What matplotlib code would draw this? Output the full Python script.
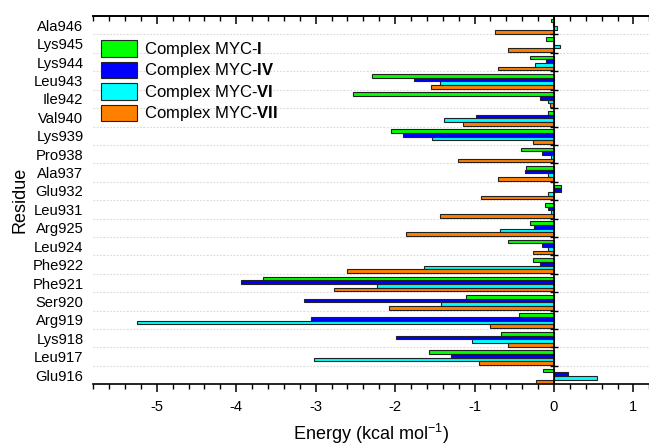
import matplotlib
matplotlib.use("Agg")
import matplotlib.pyplot as plt
import numpy as np
from matplotlib.ticker import MultipleLocator

plt.rcParams['font.family'] = ['Liberation Sans', 'DejaVu Sans']
plt.rcParams['mathtext.fontset'] = 'custom'
plt.rcParams['mathtext.rm'] = 'Liberation Sans'
plt.rcParams['mathtext.bf'] = 'Liberation Sans:bold'

residues = ["Glu916", "Leu917", "Lys918", "Arg919", "Ser920", "Phe921", "Phe922",
            "Leu924", "Arg925", "Leu931", "Glu932", "Ala937", "Pro938", "Lys939",
            "Val940", "Ile942", "Leu943", "Lys944", "Lys945", "Ala946"]

myc_I = [-0.14, -1.57, -0.665, -0.44, -1.11, -3.66, -0.27,
         -0.58, -0.30, -0.12, 0.085, -0.35, -0.42, -2.05,
         -0.07, -2.53, -2.29, -0.30, -0.10, -0.04]
myc_IV = [0.17, -1.295, -1.99, -3.065, -3.145, -3.945, -0.175,
          -0.155, -0.25, -0.07, 0.085, -0.37, -0.155, -1.895,
          -0.985, -0.18, -1.76, -0.10, 0.0, -0.01]
myc_VI = [0.54, -3.02, -1.035, -5.25, -1.42, -2.23, -1.64,
          -0.07, -0.675, -0.035, -0.07, -0.07, -0.035, -1.54,
          -1.39, -0.07, -1.44, -0.235, 0.075, 0.04]
myc_VII = [-0.225, -0.95, -0.58, -0.81, -2.08, -2.77, -2.61,
           -0.27, -1.86, -1.44, -0.92, -0.71, -1.21, -0.26,
           -1.15, -0.05, -1.55, -0.71, -0.575, -0.74]

series = [
    (myc_I, '#00ff00', r'Complex MYC-$\mathbf{I}$'),
    (myc_IV, '#0000ff', r'Complex MYC-$\mathbf{IV}$'),
    (myc_VI, '#00ffff', r'Complex MYC-$\mathbf{VI}$'),
    (myc_VII, '#ff8000', r'Complex MYC-$\mathbf{VII}$'),
]
offsets = [0.25, 0.05, -0.15, -0.35]

fig = plt.figure(figsize=(6.49, 4.46), dpi=100)
ax = fig.add_axes([0.1436, 0.1383, 0.857, 0.8258])

y = np.arange(len(residues))
for (vals, col, lab), off in zip(series, offsets):
    ax.barh(y + off, vals, height=0.2, color=col, edgecolor='#222222',
            linewidth=0.8, label=lab, zorder=3)

ax.set_ylim(-0.5, len(residues) - 0.5)
ax.set_xlim(-5.8, 1.2)

# grid at group boundaries
bounds = np.arange(len(residues) - 1) + 0.5
for b in bounds:
    ax.axhline(b, color='#d8d8d8', linestyle=(0, (1.5, 1.5)), linewidth=0.8, zorder=1)

# zero line with ticks
ax.axvline(0, color='black', linewidth=1.2, zorder=4)
ax.plot(np.zeros_like(bounds), bounds, linestyle='none', marker='_',
        markersize=6, color='black', markeredgewidth=1.0, zorder=5)

ax.set_yticks(y)
ax.set_yticklabels(residues, fontsize=10.6)
ax.tick_params(axis='y', length=0, pad=7)

ax.xaxis.set_major_locator(MultipleLocator(1))
ax.xaxis.set_minor_locator(MultipleLocator(0.2))
ax.tick_params(axis='x', which='major', direction='out', length=6, width=1.1, labelsize=10.6, pad=5)
ax.tick_params(axis='x', which='minor', direction='out', length=3.5, width=1.0)

sec = ax.secondary_xaxis('top')
sec.xaxis.set_major_locator(MultipleLocator(1))
sec.xaxis.set_minor_locator(MultipleLocator(0.2))
sec.tick_params(axis='x', which='major', direction='in', length=6, width=1.1, labeltop=False)
sec.tick_params(axis='x', which='minor', direction='in', length=3.5, width=1.0)
sec.spines['top'].set_linewidth(1.2)

for s in ['left', 'right']:
    ax.spines[s].set_visible(False)
ax.spines['bottom'].set_linewidth(1.2)
ax.spines['top'].set_linewidth(1.2)

ax.set_xticks(np.arange(-5, 2, 1))
ax.set_xticklabels(['-5', '-4', '-3', '-2', '-1', '0', '1'])

ax.set_xlabel(r'Energy (kcal mol$^{-1}$)', fontsize=13, labelpad=6)
ax.set_ylabel('Residue', fontsize=13, labelpad=3)

leg = ax.legend(loc='upper left', bbox_to_anchor=(0.0135, 0.935), frameon=False,
                fontsize=12, handlelength=2.2, handleheight=1.15,
                labelspacing=0.15, handletextpad=0.4, borderaxespad=0.0,
                borderpad=0.0)

fig.savefig('out.png', dpi=100)
